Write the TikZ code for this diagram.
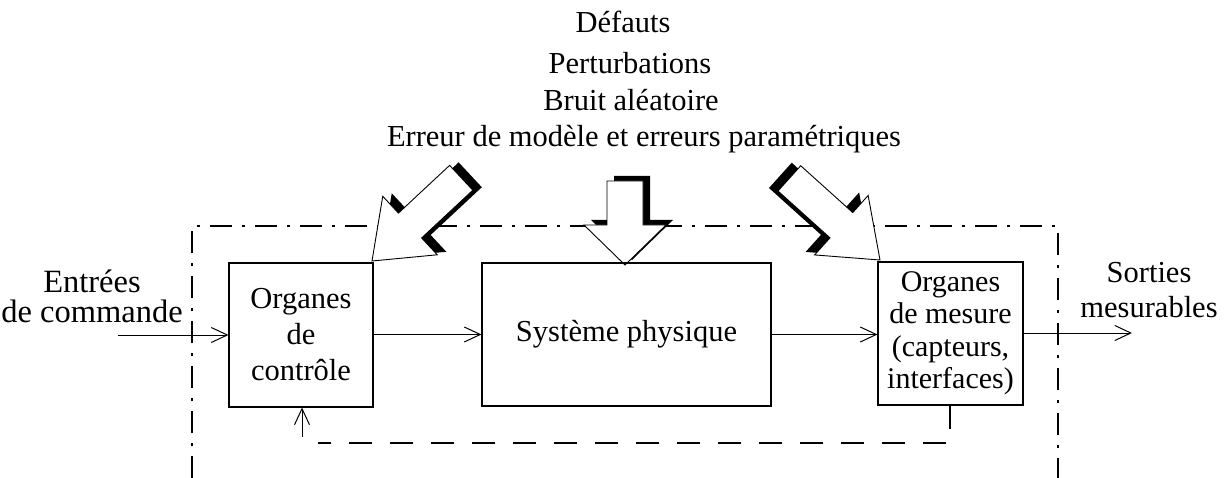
\documentclass[tikz,border=0pt]{standalone}
\usepackage{fontspec}
\setmainfont{Liberation Serif}
\usetikzlibrary{arrows.meta}
\newcommand{\blockarrow}[9]{%
  \begin{scope}[shift={(#1+#8,#2+#9)},rotate=#3]
    \fill[black] (0,0) -- (#4,#5) -- (#4,#6) -- (#7,#6) -- (#7,-#6) -- (#4,-#6) -- (#4,-#5) -- cycle;
  \end{scope}
  \begin{scope}[shift={(#1,#2)},rotate=#3]
    \filldraw[fill=white,draw=black,line width=0.9pt,line join=miter] (0,0) -- (#4,#5) -- (#4,#6) -- (#7,#6) -- (#7,-#6) -- (#4,-#6) -- (#4,-#5) -- cycle;
  \end{scope}}
\tikzset{
  box/.style={draw,line width=1.1pt,align=center,inner sep=1pt,font=\fontsize{30.5}{36}\selectfont},
  arr/.style={line width=1pt,-{Straight Barb[length=16pt,width=15pt,line width=1pt]}},
  lbl/.style={font=\fontsize{30.5}{35}\selectfont,align=center,inner sep=0pt},
  border/.style={line width=1.1pt,dash pattern=on 22pt off 10pt on 3pt off 10pt},
  fb/.style={line width=1.1pt,dash pattern=on 23pt off 18pt}
}
\begin{document}
\begin{tikzpicture}[x=1pt,y=-1pt]
\useasboundingbox (0,0) rectangle (1230,478);
% dash-dot boundary (open at the bottom of the picture)
\draw[border] (192,478) -- (192,226) -- (1058,226) -- (1058,478);
% top labels
\node[lbl,anchor=base] (def) at (623,33) {Défauts};
\node[lbl,anchor=base] (pert) at (630,74) {Perturbations};
\node[lbl,anchor=base] (bruit) at (631,111) {Bruit aléatoire};
\node[lbl,anchor=base] (err) at (644,147) {Erreur de modèle et erreurs paramétriques};
% block arrows
\blockarrow{372}{261}{43}{52}{40}{17}{122}{9}{-3}
\blockarrow{880}{260}{138}{52}{40}{17}{122}{-9}{-3}
\blockarrow{625}{265}{90}{40}{41}{18}{84}{7}{-5}
% boxes
\node[box,minimum width=144pt,minimum height=144pt] (ctrl) at (301,335) {Organes\\de\\contrôle};
\node[box,minimum width=289pt,minimum height=143pt] (sys) at (626.5,334.5) {Système physique};
\node[box,minimum width=145pt,minimum height=143pt,font=\fontsize{30}{32.5}\selectfont] (mes) at (950.5,333.5) {Organes\\de mesure\\(capteurs,\\interfaces)};
% side labels
\node[lbl,anchor=base,font=\fontsize{32.5}{30}\selectfont] (entree) at (92,322) {Entrées\\de commande};
\node[lbl,anchor=base] (sortie) at (1149,317) {Sorties\\mesurables};
% connectors
\coordinate (inL) at (118,335);
\coordinate (outR) at (1132,333);
\draw[arr] (inL) -- (ctrl.west |- inL);
\draw[arr] (ctrl.east |- sys.west) -- (sys.west);
\draw[arr] (sys.east) -- (mes.west |- sys.east);
\draw[arr] (mes.east |- outR) -- (outR);
% feedback
\coordinate (fbA) at (950,443);
\coordinate (fbB) at (318,443);
\coordinate (fbC) at (302,437);
\draw[fb] (mes.south -| fbA) -- (fbA) -- (fbB);
\draw[arr] (fbC) -- (ctrl.south -| fbC);
\end{tikzpicture}
\end{document}
